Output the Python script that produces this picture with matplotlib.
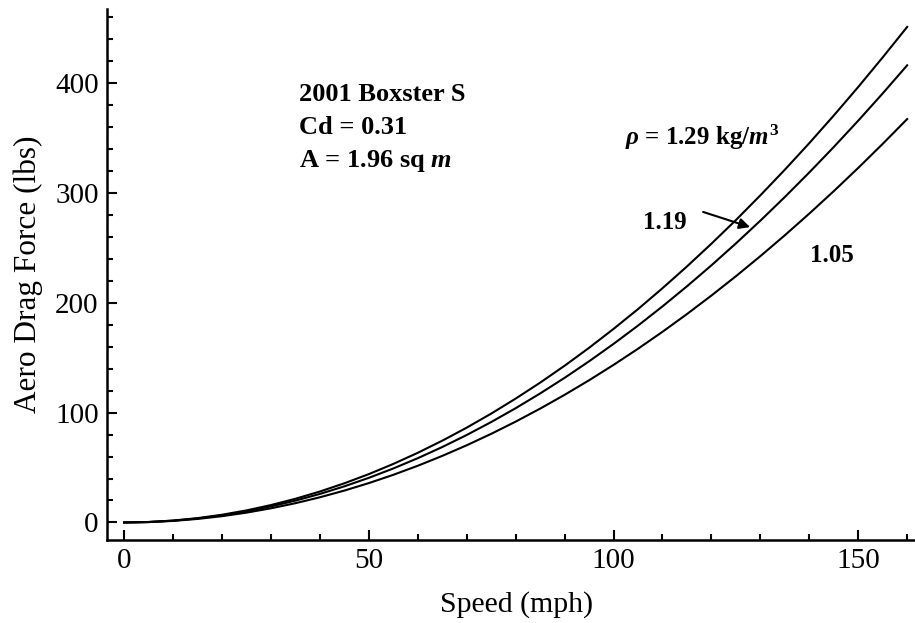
import matplotlib
matplotlib.use("Agg")
import matplotlib.pyplot as plt
from matplotlib.ticker import MultipleLocator

plt.rcParams['font.family'] = ['Liberation Serif', 'DejaVu Serif']
plt.rcParams['mathtext.fontset'] = 'custom'
plt.rcParams['mathtext.rm'] = 'Liberation Serif:bold'
plt.rcParams['mathtext.it'] = 'Liberation Serif:italic:bold'
plt.rcParams['mathtext.bf'] = 'Liberation Serif:bold'

# speed (mph) and drag force (lbs)
speed = [0, 5, 10, 15, 20, 25, 30, 35, 40, 45, 50, 55, 60, 65, 70, 75, 80,
         85, 90, 95, 100, 105, 110, 115, 120, 125, 130, 135, 140, 145, 150, 155, 160]
drag_129 = [0, 0.44, 1.76, 3.96, 7.04, 11.0, 15.85, 21.57, 28.17, 35.66, 44.02,
            53.27, 63.39, 74.4, 86.28, 99.05, 112.7, 127.2, 142.6, 158.9, 176.1,
            194.1, 213.1, 232.9, 253.6, 275.1, 297.6, 320.9, 345.1, 370.2, 396.2,
            423.1, 450.8]
drag_119 = [0, 0.41, 1.62, 3.66, 6.5, 10.15, 14.62, 19.9, 25.99, 32.9, 40.62,
            49.14, 58.49, 68.64, 79.61, 91.38, 103.97, 117.38, 131.59, 146.62,
            162.46, 179.11, 196.58, 214.85, 233.94, 253.84, 274.56, 296.08,
            318.42, 341.57, 365.54, 390.31, 415.9]
drag_105 = [0, 0.36, 1.43, 3.23, 5.73, 8.96, 12.9, 17.56, 22.94, 29.03, 35.84,
            43.37, 51.61, 60.57, 70.25, 80.64, 91.75, 103.58, 116.12, 129.38,
            143.36, 158.05, 173.47, 189.59, 206.44, 224.0, 242.28, 261.27, 280.99,
            301.41, 322.56, 344.42, 367.0]

fig = plt.figure(figsize=(9.15, 6.23), dpi=100)
ax = fig.add_axes([0.117, 0.134, 0.883, 0.851])

for d in (drag_129, drag_119, drag_105):
    ax.plot(speed, d, color='black', lw=1.5)

ax.set_xlim(-3.5, 161.6)
ax.set_ylim(-15.5, 466.8)

for s in ('top', 'right'):
    ax.spines[s].set_visible(False)
for s in ('left', 'bottom'):
    ax.spines[s].set_linewidth(1.8)

ax.xaxis.set_major_locator(MultipleLocator(50))
ax.xaxis.set_minor_locator(MultipleLocator(10))
ax.yaxis.set_major_locator(MultipleLocator(100))
ax.yaxis.set_minor_locator(MultipleLocator(20))
ax.tick_params(which='both', direction='in', width=1.5, labelsize=21, pad=6)
ax.tick_params(which='major', length=7)
ax.tick_params(which='minor', length=4.5)

ax.set_xlabel('Speed (mph)', fontsize=21.5)
ax.set_ylabel('Aero Drag Force (lbs)', fontsize=22.5)
ax.xaxis.set_label_coords(0.507, -0.097)
ax.yaxis.set_label_coords(-0.079, 0.5)

ax.text(35.8, 389, '2001 Boxster S', fontsize=19, fontweight='bold', va='center')
ax.text(35.8, 359, 'Cd = 0.31', fontsize=19, fontweight='bold', va='center')
ax.text(35.8, 329, r'A = 1.96 sq $m$', fontsize=19, fontweight='bold', va='center')

ax.text(102.4, 350, r'$\rho$ = 1.29 kg/$m^3$', fontsize=18, fontweight='bold', va='center')
ax.text(106, 273, '1.19', fontsize=18, fontweight='bold', va='center')
ax.text(140.2, 243, '1.05', fontsize=18, fontweight='bold', va='center')
ax.annotate('', xy=(127.9, 268.7), xytext=(118.3, 282.5),
            arrowprops=dict(arrowstyle='-|>', color='black', lw=1.5,
                            mutation_scale=16, shrinkA=0, shrinkB=0))

fig.savefig('out.png', dpi=100)
